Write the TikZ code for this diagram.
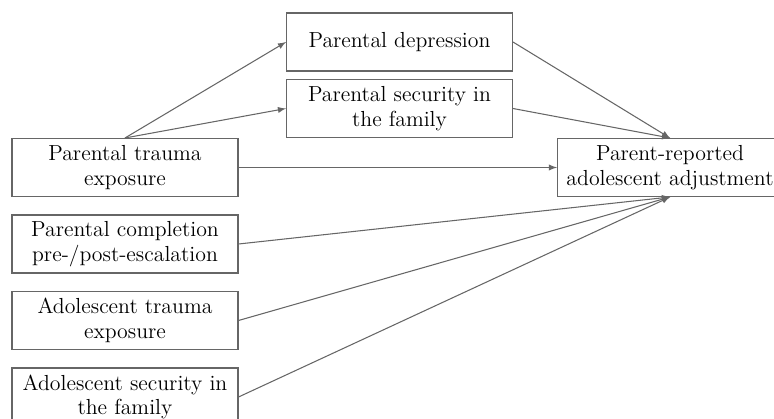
\documentclass[tikz,border=0pt]{standalone}
\usepackage{tikz}
\usetikzlibrary{arrows}
\tikzstyle{varbox} = [rectangle, minimum width=4.52cm, minimum height=1.16cm, align=center, draw=black!60, line width=0.6pt, fill=white, font=\fontsize{12.4}{13.9}\selectfont]
\tikzstyle{arrow} = [line width=0.6pt, draw=black!60, ->, >=latex]

\begin{document}
\begin{tikzpicture}[x=0.02cm, y=-0.02cm]
                \useasboundingbox (0,0) rectangle (774,419);
                \clip (0,0) rectangle (774,419);

% ---------------------------------------------
% Mediators (top)
% ---------------------------------------------
                \node (dep) [varbox] at (399.5,42) {Parental depression};
                \node (psec) [varbox] at (399.5,108.5) {Parental security in\\the family};

% ---------------------------------------------
% Predictors (left column)
% ---------------------------------------------
                \node (ptrauma) [varbox] at (125,167.5) {Parental trauma\\exposure};
                \node (compl) [varbox] at (125,244) {Parental completion\\pre-/post-escalation};
                \node (atrauma) [varbox] at (125,320.5) {Adolescent trauma\\exposure};
                \node (asec) [varbox] at (125,397) {Adolescent security in\\the family};

% ---------------------------------------------
% Outcome
% ---------------------------------------------
                \node (outcome) [varbox, minimum width=4.5cm] at (670,167.5) {Parent-reported\\adolescent adjustment};

% ---------------------------------------------
% All arrows
% ---------------------------------------------
                \draw [arrow] (ptrauma.north) -- (dep.west);
                \draw [arrow] (ptrauma.north) -- (psec.west);
                \draw [arrow] (dep.east) -- (outcome.north);
                \draw [arrow] (psec.east) -- (outcome.north);
                \draw [arrow] (ptrauma.east) -- (outcome.west);
                \draw [arrow] (compl.east) -- (outcome.south);
                \draw [arrow] (atrauma.east) -- (outcome.south);
                \draw [arrow] (asec.east) -- (outcome.south);

\end{tikzpicture}
\end{document}
